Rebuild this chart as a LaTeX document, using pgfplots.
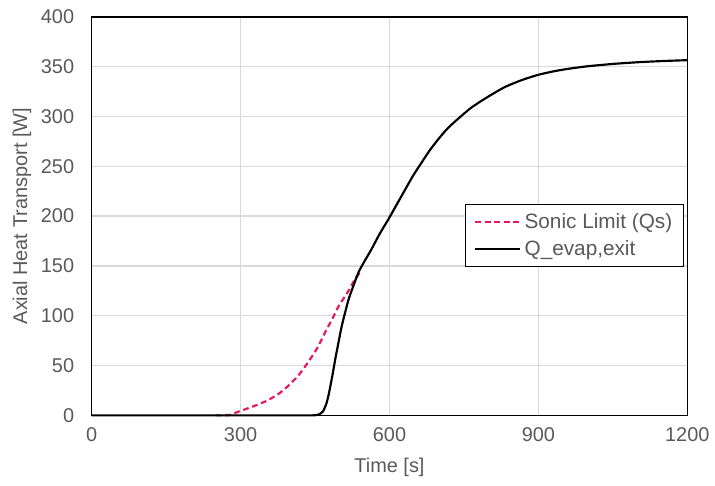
\documentclass[border=0pt]{standalone}
\usepackage{fontspec}
\setmainfont{Liberation Sans}
\usepackage{pgfplots}
\pgfplotsset{compat=1.18}
\definecolor{sonic}{RGB}{232,22,92}
\definecolor{txt}{RGB}{89,89,89}
\definecolor{gridc}{RGB}{217,217,217}
\begin{document}
\begin{tikzpicture}
\begin{axis}[
  scale only axis, width=358.8pt, height=240pt,
  xmin=0, xmax=1200, ymin=0, ymax=400,
  xtick={0,300,600,900,1200}, ytick={0,50,...,400},
  major tick length=0pt,
  grid=major, grid style={gridc, line width=0.8pt},
  axis line style={black, line width=0.8pt},
  tick label style={font=\fontsize{12}{14}\selectfont, text=txt},
  /pgf/number format/assume math mode=true,
  /pgf/number format/1000 sep={},
  yticklabel style={xshift=-7pt},
  xticklabel style={yshift=-4pt},
  xlabel={Time [s]}, ylabel={Axial Heat Transport [W]},
  label style={font=\fontsize{12}{14}\selectfont, text=txt},
  xlabel style={at={(axis description cs:0.5,-0.13)}, anchor=center},
  ylabel style={at={(axis description cs:-0.117,0.5)}, anchor=center},
  legend style={at={(rel axis cs:0.995,0.53)}, anchor=north east, draw=black, line width=0.6pt,
    font=\fontsize{12.5}{14}\selectfont, text=txt, inner xsep=5pt, inner ysep=3pt, row sep=2pt},
  legend cell align=left,
  legend image code/.code={\draw[#1] (0cm,0cm) -- (0.95cm,0cm);},
  clip=false,
]
\addplot[sonic, line width=1.3pt, dash pattern=on 3.5pt off 2.2pt, smooth, tension=0.4] coordinates {
 (250,0) (277,0.3) (297,4) (320,8) (350,14) (375,21) (397,30) (418,41) (437,54)
 (455,68) (471,84) (485,97) (498,110) (515,123) (531,137) (540,143)};
\addlegendentry{Sonic Limit (Qs)}
\addplot[black, line width=1.3pt, smooth, tension=0.4] coordinates {
 (0,0) (420,0) (445,0) (457,0.7) (466,4) (473,12) (478,22) (485,40) (491,57) (498,75) (504,90)
 (511,104) (518,117) (528,131) (538,144) (550,155) (564,167) (580,182) (598,197)
 (615,212) (632,227) (648,241) (665,254) (681,266) (698,277) (715,287) (732,295)
 (765,309) (799,320) (832,329.5) (866,336.5) (899,341.8) (930,345.3) (960,347.9)
 (1000,350.5) (1050,352.8) (1100,354.5) (1150,355.7) (1200,356.6)};
\addlegendentry{Q\_evap,exit}
\coordinate (ll) at (rel axis cs:0,0);
\coordinate (ur) at (rel axis cs:1,1);
\end{axis}
\path ([xshift=-55.2pt,yshift=-42pt]ll) rectangle ([xshift=15pt,yshift=10.2pt]ur);
\end{tikzpicture}
\end{document}
